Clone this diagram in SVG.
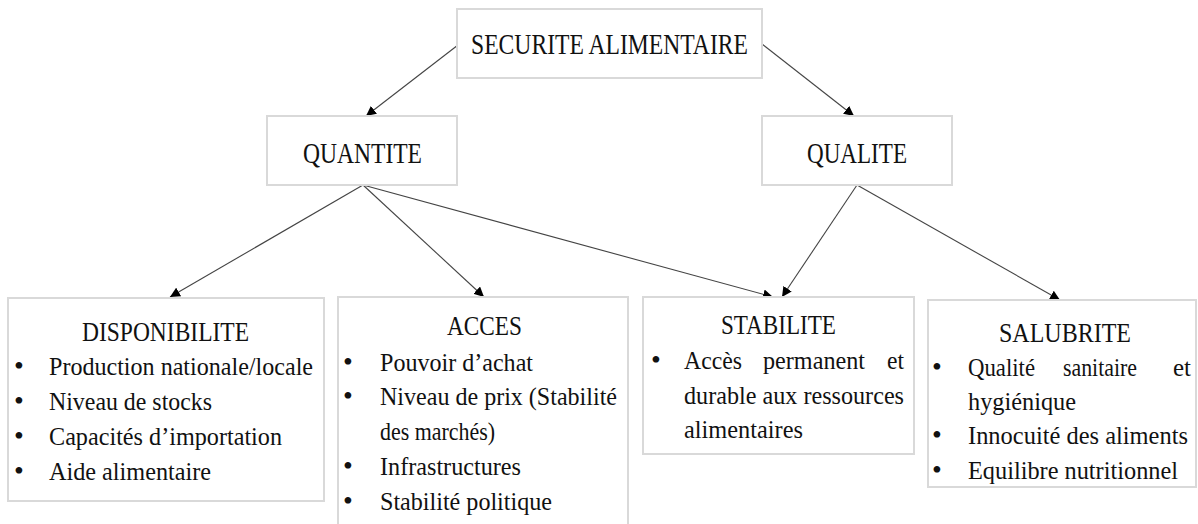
<svg xmlns="http://www.w3.org/2000/svg" width="1198" height="524" viewBox="0 0 1198 524">
<defs>
<style>
.box{fill:#fff;stroke:#d9d9d9;stroke-width:2}
.t{fill:#111;font-family:"Liberation Serif","Times New Roman",serif}
.h1{font-size:30px}
.h2{font-size:27px}
.it{font-size:25px}
.bl{font-size:28px}
.c{stroke:#444;stroke-width:1.1;fill:none;marker-end:url(#ah)}
</style>
<marker id="ah" viewBox="0 0 10 10" refX="10" refY="5" markerWidth="10" markerHeight="10" markerUnits="userSpaceOnUse" orient="auto">
<path d="M0,0 L10,5 L0,10 z" fill="#000"/>
</marker>
</defs>
<rect width="1198" height="524" fill="#fff"/>
<g id="connectors">
<line class="c" x1="458" y1="45" x2="366" y2="116"/>
<line class="c" x1="762" y1="44" x2="854" y2="116"/>
<line class="c" x1="363" y1="185" x2="170" y2="297"/>
<line class="c" x1="363" y1="185" x2="484" y2="297"/>
<line class="c" x1="363" y1="185" x2="773" y2="297"/>
<line class="c" x1="857" y1="185" x2="782" y2="297"/>
<line class="c" x1="857" y1="185" x2="1060" y2="300"/>
</g>
<g id="securite">
<rect class="box" x="457" y="9" width="305" height="69"/>
<text class="t h1" x="471" y="54" textLength="277" lengthAdjust="spacingAndGlyphs">SECURITE ALIMENTAIRE</text>
</g>
<g id="quantite">
<rect class="box" x="267" y="116" width="190" height="69"/>
<text class="t h1" x="303" y="163" textLength="119" lengthAdjust="spacingAndGlyphs">QUANTITE</text>
</g>
<g id="qualite">
<rect class="box" x="762" y="116" width="190" height="69"/>
<text class="t h1" x="807" y="163" textLength="100" lengthAdjust="spacingAndGlyphs">QUALITE</text>
</g>
<g id="disponibilite">
<rect class="box" x="8" y="298" width="316" height="203"/>
<text class="t h2" x="82" y="341" textLength="167" lengthAdjust="spacingAndGlyphs">DISPONIBILITE</text>
<text class="t bl" x="14" y="375">•</text>
<text class="t it" x="49" y="375" textLength="264" lengthAdjust="spacingAndGlyphs">Production nationale/locale</text>
<text class="t bl" x="14" y="410">•</text>
<text class="t it" x="49" y="410" textLength="163" lengthAdjust="spacingAndGlyphs">Niveau de stocks</text>
<text class="t bl" x="14" y="445">•</text>
<text class="t it" x="49" y="445" textLength="233" lengthAdjust="spacingAndGlyphs">Capacités d’importation</text>
<text class="t bl" x="14" y="480">•</text>
<text class="t it" x="49" y="480" textLength="162" lengthAdjust="spacingAndGlyphs">Aide alimentaire</text>
</g>
<g id="acces">
<rect class="box" x="338" y="297" width="290" height="240"/>
<text class="t h2" x="447" y="335" textLength="75" lengthAdjust="spacingAndGlyphs">ACCES</text>
<text class="t bl" x="343" y="371">•</text>
<text class="t it" x="380" y="371" textLength="153" lengthAdjust="spacingAndGlyphs">Pouvoir d’achat</text>
<text class="t bl" x="343" y="405">•</text>
<text class="t it" x="380" y="405" textLength="237" lengthAdjust="spacingAndGlyphs">Niveau de prix (Stabilité</text>
<text class="t it" x="380" y="440" textLength="115" lengthAdjust="spacingAndGlyphs">des marchés)</text>
<text class="t bl" x="343" y="475">•</text>
<text class="t it" x="380" y="475" textLength="141" lengthAdjust="spacingAndGlyphs">Infrastructures</text>
<text class="t bl" x="343" y="510">•</text>
<text class="t it" x="380" y="510" textLength="172" lengthAdjust="spacingAndGlyphs">Stabilité politique</text>
</g>
<g id="stabilite">
<rect class="box" x="643" y="297" width="271" height="157"/>
<text class="t h2" x="721" y="334" textLength="115" lengthAdjust="spacingAndGlyphs">STABILITE</text>
<text class="t bl" x="651" y="369">•</text>
<text class="t it" x="684" y="369" textLength="58" lengthAdjust="spacingAndGlyphs">Accès</text>
<text class="t it" x="763" y="369" textLength="102" lengthAdjust="spacingAndGlyphs">permanent</text>
<text class="t it" x="887" y="369" textLength="17" lengthAdjust="spacingAndGlyphs">et</text>
<text class="t it" x="684" y="404" textLength="220" lengthAdjust="spacingAndGlyphs">durable aux ressources</text>
<text class="t it" x="684" y="438" textLength="119" lengthAdjust="spacingAndGlyphs">alimentaires</text>
</g>
<g id="salubrite">
<rect class="box" x="928" y="300" width="268" height="187"/>
<text class="t h2" x="999" y="342" textLength="132" lengthAdjust="spacingAndGlyphs">SALUBRITE</text>
<text class="t bl" x="932" y="376">•</text>
<text class="t it" x="968" y="376" textLength="67" lengthAdjust="spacingAndGlyphs">Qualité</text>
<text class="t it" x="1063" y="376" textLength="74" lengthAdjust="spacingAndGlyphs">sanitaire</text>
<text class="t it" x="1173" y="376" textLength="18" lengthAdjust="spacingAndGlyphs">et</text>
<text class="t it" x="968" y="410" textLength="108" lengthAdjust="spacingAndGlyphs">hygiénique</text>
<text class="t bl" x="932" y="444">•</text>
<text class="t it" x="968" y="444" textLength="220" lengthAdjust="spacingAndGlyphs">Innocuité des aliments</text>
<text class="t bl" x="932" y="479">•</text>
<text class="t it" x="968" y="479" textLength="210" lengthAdjust="spacingAndGlyphs">Equilibre nutritionnel</text>
</g>
</svg>
